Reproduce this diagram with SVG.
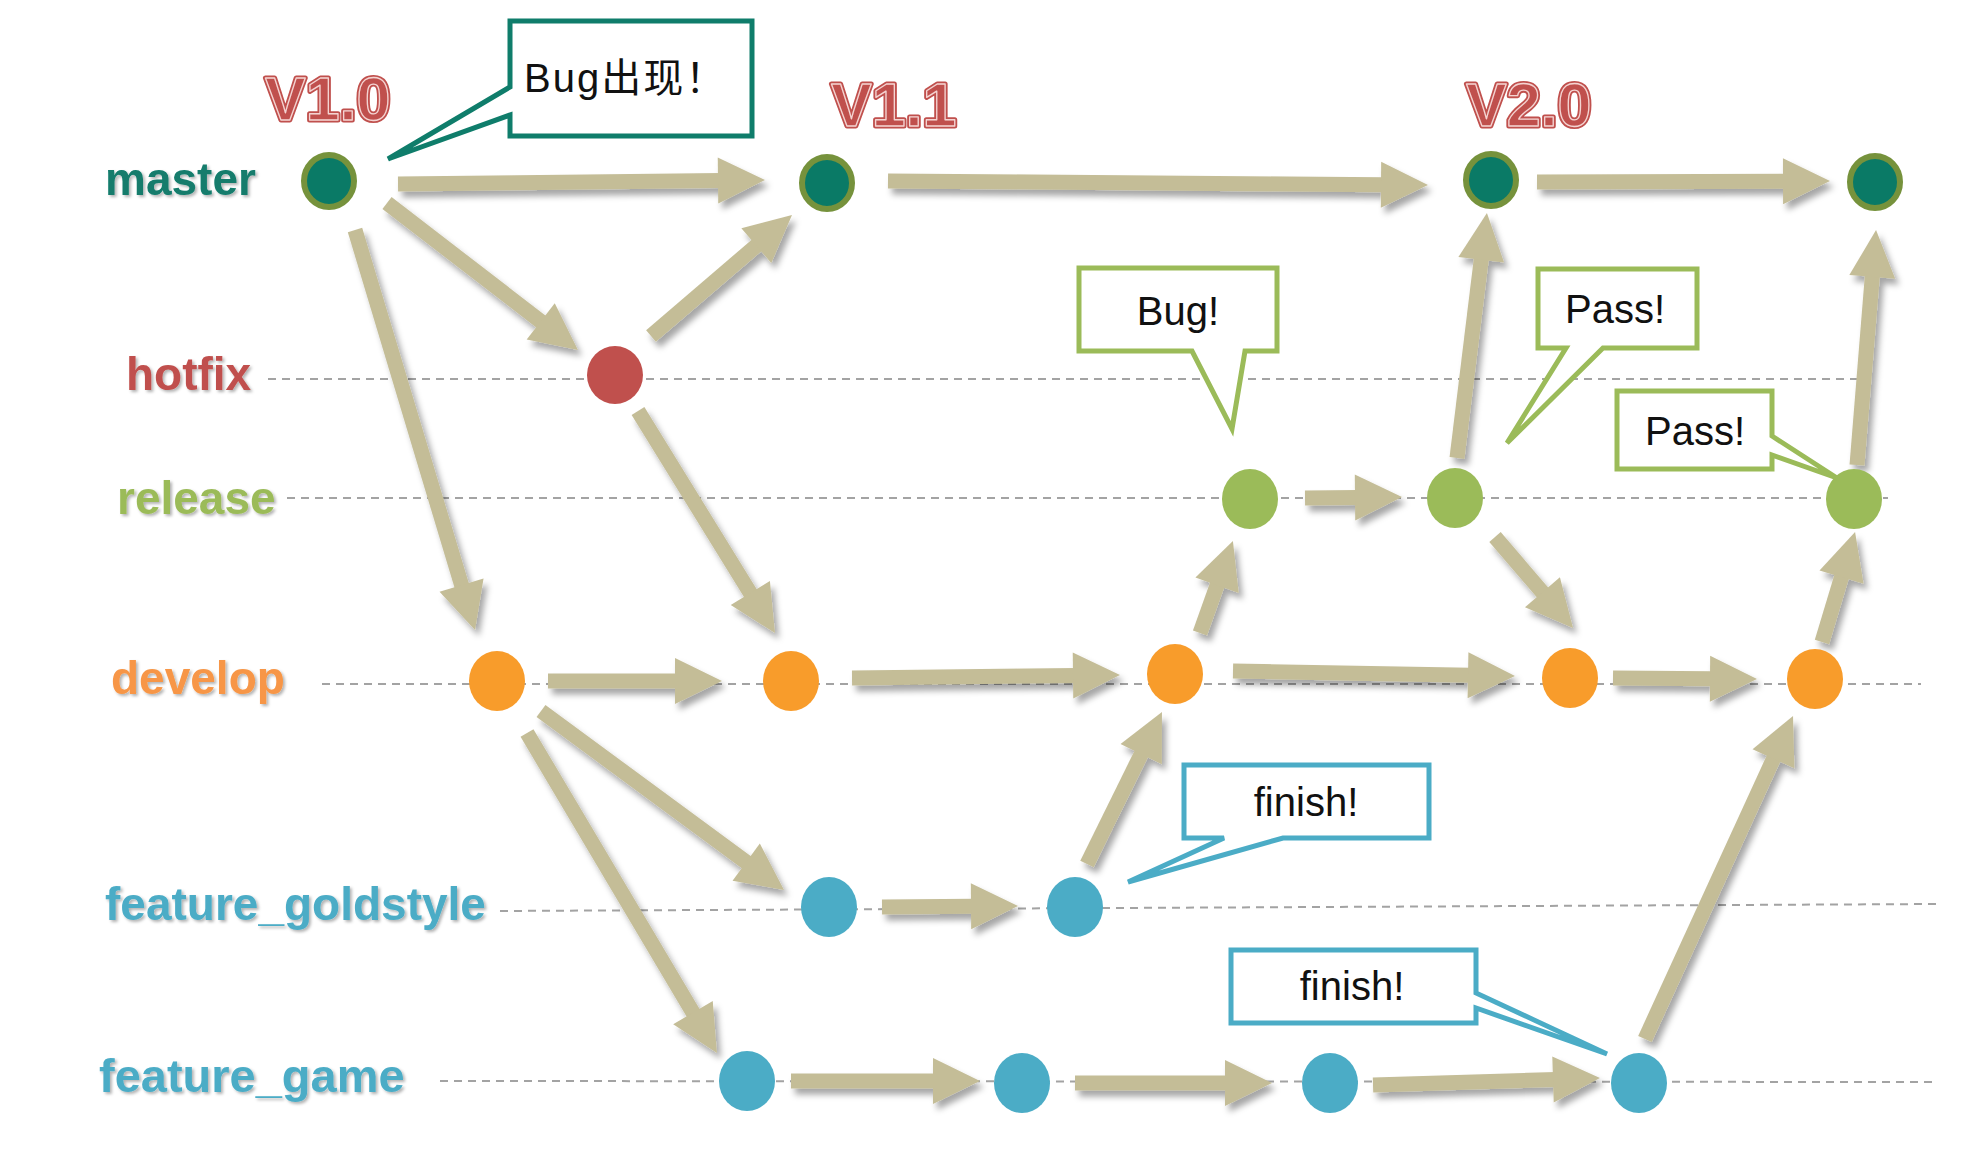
<svg xmlns="http://www.w3.org/2000/svg" width="1976" height="1162" viewBox="0 0 1976 1162">
  <defs>
    <style>
      .lane { stroke: #a3a3a3; stroke-width: 2; stroke-dasharray: 8 6; fill: none; }
      .branch { font-family: "Liberation Sans", Arial, sans-serif; font-weight: bold; font-size: 46px; }
      .ver { font-family: "Liberation Sans", Arial, sans-serif; font-weight: bold; font-size: 61px; fill: #c0504d; }
      .ver-out { stroke: #c0504d; stroke-width: 5; stroke-linejoin: round; }
      .ver-in { stroke: #f4d4d2; stroke-width: 1.3; stroke-linejoin: round; }
      .flow { stroke: #c4bd97; stroke-width: 15; fill: none; marker-end: url(#head); }
      .note { fill: #ffffff; stroke-width: 5; stroke-linejoin: miter; }
      .note-text { font-family: "Liberation Sans", Arial, "Noto Sans CJK SC", sans-serif; font-size: 40px; fill: #111111; }
      .m { fill: #0a7a66; stroke: #76923c; stroke-width: 6; }
      .h { fill: #c0504d; }
      .r { fill: #9bbb59; }
      .d { fill: #f89c2b; }
      .f { fill: #4bacc6; }
    </style>
    <marker id="head" markerUnits="userSpaceOnUse" viewBox="-4 -24 50 48" markerWidth="50" markerHeight="48" refX="0" refY="0" orient="auto">
      <path d="M-3,-23 L44,0 L-3,23 Z" fill="#c4bd97"/>
    </marker>
    <filter id="shadow" x="-10%" y="-10%" width="120%" height="120%">
      <feDropShadow dx="4" dy="6" stdDeviation="3" flood-color="#000000" flood-opacity="0.35"/>
    </filter>
    <filter id="soft" x="-10%" y="-20%" width="120%" height="150%">
      <feDropShadow dx="2" dy="2" stdDeviation="1.5" flood-color="#000000" flood-opacity="0.3"/>
    </filter>
  </defs>

  <rect width="1976" height="1162" fill="#ffffff"/>

  <!-- branch lanes -->
  <g id="lanes">
    <line class="lane" x1="268" y1="379" x2="1858" y2="379"/>
    <line class="lane" x1="287" y1="498" x2="1888" y2="498"/>
    <line class="lane" x1="322" y1="684" x2="1921" y2="684"/>
    <line class="lane" x1="500" y1="911" x2="1937" y2="904"/>
    <line class="lane" x1="440" y1="1081" x2="1933" y2="1082"/>
  </g>

  <!-- branch names -->
  <g id="branch-labels" class="branch" filter="url(#soft)">
    <text x="105" y="195" fill="#127c6c">master</text>
    <text x="126" y="390" fill="#c0504d">hotfix</text>
    <text x="117" y="514" fill="#9bbb59">release</text>
    <text x="111" y="694" fill="#f79646">develop</text>
    <text x="105" y="920" fill="#4bacc6">feature_goldstyle</text>
    <text x="99" y="1092" fill="#4bacc6" font-size="47">feature_game</text>
  </g>

  <!-- version tags -->
  <g id="versions" class="ver">
    <text class="ver-out" x="265" y="120">V1.0</text>
    <text class="ver-in" x="265" y="120">V1.0</text>
    <text class="ver-out" x="831" y="126">V1.1</text>
    <text class="ver-in" x="831" y="126">V1.1</text>
    <text class="ver-out" x="1466" y="126">V2.0</text>
    <text class="ver-in" x="1466" y="126">V2.0</text>
  </g>

  <!-- connectors -->
  <g id="connectors" filter="url(#shadow)">
    <line class="flow" x1="398" y1="184" x2="721" y2="180.5"/>
    <line class="flow" x1="888" y1="181" x2="1384" y2="184.7"/>
    <line class="flow" x1="1537" y1="182" x2="1786" y2="181.2"/>
    <line class="flow" x1="387" y1="203" x2="543.1" y2="323.2"/>
    <line class="flow" x1="651" y1="336" x2="758.6" y2="243.7"/>
    <line class="flow" x1="355" y1="230" x2="462.4" y2="587.9"/>
    <line class="flow" x1="638" y1="411" x2="751.9" y2="595.6"/>
    <line class="flow" x1="548" y1="681" x2="678" y2="681"/>
    <line class="flow" x1="852" y1="678" x2="1076" y2="675.5"/>
    <line class="flow" x1="1233" y1="671" x2="1471" y2="675.2"/>
    <line class="flow" x1="1613" y1="678" x2="1713" y2="678.7"/>
    <line class="flow" x1="541" y1="711" x2="748.6" y2="863.9"/>
    <line class="flow" x1="527" y1="733" x2="694.5" y2="1015.2"/>
    <line class="flow" x1="882" y1="907" x2="974" y2="906.3"/>
    <line class="flow" x1="1087" y1="864" x2="1142.5" y2="751.5"/>
    <line class="flow" x1="1200" y1="633" x2="1218.1" y2="582.4"/>
    <line class="flow" x1="1305" y1="498" x2="1358" y2="497.5"/>
    <line class="flow" x1="1457" y1="458" x2="1481.6" y2="256.7"/>
    <line class="flow" x1="1495" y1="537" x2="1544.4" y2="594.6"/>
    <line class="flow" x1="1822" y1="642" x2="1842.4" y2="574.2"/>
    <line class="flow" x1="1857" y1="465" x2="1872.5" y2="273.9"/>
    <line class="flow" x1="791" y1="1081" x2="936" y2="1081"/>
    <line class="flow" x1="1075" y1="1083" x2="1228" y2="1083"/>
    <line class="flow" x1="1373" y1="1085" x2="1556" y2="1079.4"/>
    <line class="flow" x1="1645" y1="1039" x2="1774.7" y2="756"/>
  </g>

  <!-- master commits -->
  <g id="master-1"><ellipse class="m" cx="329" cy="181" rx="25" ry="26"/></g>
  <g id="master-2"><ellipse class="m" cx="827" cy="183" rx="25" ry="26"/></g>
  <g id="master-3"><ellipse class="m" cx="1491" cy="180" rx="25" ry="26"/></g>
  <g id="master-4"><ellipse class="m" cx="1875" cy="182" rx="25" ry="26"/></g>

  <!-- hotfix commit -->
  <g id="hotfix-1"><ellipse class="h" cx="615" cy="375" rx="28" ry="29"/></g>

  <!-- release commits -->
  <g id="release-1"><ellipse class="r" cx="1250" cy="499" rx="28" ry="30"/></g>
  <g id="release-2"><ellipse class="r" cx="1455" cy="498" rx="28" ry="30"/></g>
  <g id="release-3"><ellipse class="r" cx="1854" cy="499" rx="28" ry="30"/></g>

  <!-- develop commits -->
  <g id="develop-1"><ellipse class="d" cx="497" cy="681" rx="28" ry="30"/></g>
  <g id="develop-2"><ellipse class="d" cx="791" cy="681" rx="28" ry="30"/></g>
  <g id="develop-3"><ellipse class="d" cx="1175" cy="674" rx="28" ry="30"/></g>
  <g id="develop-4"><ellipse class="d" cx="1570" cy="678" rx="28" ry="30"/></g>
  <g id="develop-5"><ellipse class="d" cx="1815" cy="679" rx="28" ry="30"/></g>

  <!-- feature_goldstyle commits -->
  <g id="goldstyle-1"><ellipse class="f" cx="829" cy="907" rx="28" ry="30"/></g>
  <g id="goldstyle-2"><ellipse class="f" cx="1075" cy="907" rx="28" ry="30"/></g>

  <!-- feature_game commits -->
  <g id="game-1"><ellipse class="f" cx="747" cy="1081" rx="28" ry="30"/></g>
  <g id="game-2"><ellipse class="f" cx="1022" cy="1083" rx="28" ry="30"/></g>
  <g id="game-3"><ellipse class="f" cx="1330" cy="1083" rx="28" ry="30"/></g>
  <g id="game-4"><ellipse class="f" cx="1639" cy="1083" rx="28" ry="30"/></g>

  <!-- callouts -->
  <g id="note-bug-found">
    <path class="note" stroke="#0f7d6b" d="M510,21 H752 V136 H510 V115 L388,159 L510,87 Z"/>
    <text class="note-text" x="524" y="92" font-size="41" letter-spacing="2">Bug出现！</text>
  </g>
  <g id="note-bug">
    <path class="note" stroke="#9bbb59" d="M1079,268 H1277 V351 H1245 L1232,429 L1192,351 H1079 Z"/>
    <text class="note-text" x="1178" y="325" text-anchor="middle">Bug!</text>
  </g>
  <g id="note-pass-1">
    <path class="note" stroke="#9bbb59" d="M1538,269 H1697 V348 H1603 L1507,443 L1566,348 H1538 Z"/>
    <text class="note-text" x="1615" y="323" text-anchor="middle">Pass!</text>
  </g>
  <g id="note-pass-2">
    <path class="note" stroke="#9bbb59" d="M1617,391 H1772 V436 L1837,478 L1772,455 V469 H1617 Z"/>
    <text class="note-text" x="1695" y="445" text-anchor="middle">Pass!</text>
  </g>
  <g id="note-finish-goldstyle">
    <path class="note" stroke="#4bacc6" d="M1184,765 H1429 V838 H1283 L1128,882 L1224,838 H1184 Z"/>
    <text class="note-text" x="1306" y="816" text-anchor="middle">finish!</text>
  </g>
  <g id="note-finish-game">
    <path class="note" stroke="#4bacc6" d="M1231,950 H1476 V993 L1607,1054 L1476,1008 V1023 H1231 Z"/>
    <text class="note-text" x="1352" y="1000" text-anchor="middle">finish!</text>
  </g>
</svg>
